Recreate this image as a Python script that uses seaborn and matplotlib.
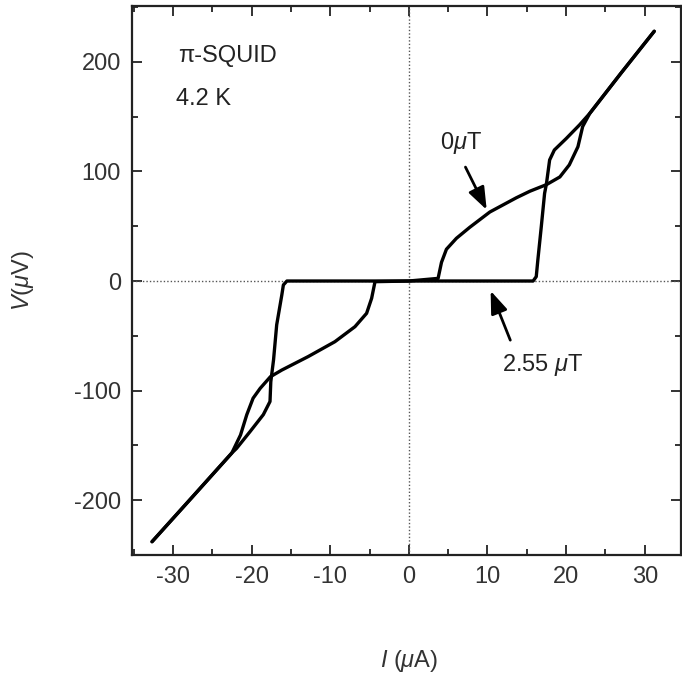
import numpy as np
import pandas as pd
import matplotlib
matplotlib.use("Agg")
import matplotlib.pyplot as plt
from matplotlib.ticker import MultipleLocator
import seaborn as sns

# I-V curves of the pi-SQUID (I in uA, V in uV)
i_0uT = [-32.65, -27.5, -22.5, -21.4, -20.6, -19.8, -18.9, -17.6, -16.15, -12.8,
         -9.4, -6.85, -5.37, -4.73, -4.3, 0.0, 3.72, 4.15, 4.78, 6.05,
         7.74, 10.3, 13.67, 15.4, 17.5, 19.2, 20.4, 21.5, 22.1, 23.0,
         27.0, 31.2]
v_0uT = [-238, -197, -157, -140.6, -122, -107, -98, -87.4, -81.3, -69,
         -55.4, -41.7, -29.5, -15.8, -0.6, 0, 2.4, 17, 29, 39,
         49, 63, 76, 82, 88, 95, 106, 122.6, 141, 153,
         190, 228]

i_255uT = [-32.65, -27.5, -22.5, -21.9, -20.2, -18.5, -17.65, -17.55, -17.2, -16.8,
           -16.15, -15.95, -15.5, 0.0, 15.8, 16.2, 16.4, 16.84, 17.26, 17.5,
           17.9, 18.5, 20.0, 21.7, 23.0, 27.0, 31.2]
v_255uT = [-238, -197, -157, -152.8, -137.6, -122, -110, -92, -72, -40,
           -12.8, -3.6, 0, 0, 0, 4, 19, 49.6, 80, 89,
           110.5, 119.6, 130, 142.5, 153, 190, 228]

x_ticks = [-30, -20, -10, 0, 10, 20, 30]
y_ticks = [-200, -100, 0, 100, 200]

df = pd.concat([
    pd.DataFrame({"I": i_0uT, "V": v_0uT, "field": "0uT"}),
    pd.DataFrame({"I": i_255uT, "V": v_255uT, "field": "2.55uT"}),
], ignore_index=True)

sns.set_style("ticks")
plt.rcParams["font.family"] = ["Liberation Sans", "DejaVu Sans"]
plt.rcParams["mathtext.fontset"] = "custom"
plt.rcParams["mathtext.rm"] = "Liberation Sans"
plt.rcParams["mathtext.it"] = "Liberation Sans:italic"
plt.rcParams["axes.unicode_minus"] = False
plt.rcParams["font.size"] = 17

fig = plt.figure(figsize=(6.82, 6.75), dpi=100)
ax = fig.add_axes([0.1935, 0.178, 0.805, 0.813])

ax.axhline(0, color="#555555", lw=1.0, ls=(0, (1, 1.5)), zorder=1)
ax.axvline(0, color="#555555", lw=1.0, ls=(0, (1, 1.5)), zorder=1)

sns.lineplot(data=df, x="I", y="V", units="field", estimator=None, sort=False,
             color="black", lw=2.4, ax=ax, zorder=3,
             solid_joinstyle="round", solid_capstyle="round")

ax.set_xlim(-35.2, 34.6)
ax.set_ylim(-250, 251)
ax.set_xticks(x_ticks)
ax.set_yticks(y_ticks)
ax.xaxis.set_minor_locator(MultipleLocator(5))
ax.yaxis.set_minor_locator(MultipleLocator(50))
ax.tick_params(which="both", direction="in", top=True, right=True,
               colors="#222222", labelcolor="#333333", width=1.3)
ax.tick_params(which="major", length=7, labelsize=17, pad=8)
ax.tick_params(which="minor", length=4)
for s in ax.spines.values():
    s.set_linewidth(1.6)
    s.set_color("#222222")

ax.set_xlabel(r"$I$ ($\mu$A)", fontsize=17, color="#333333")
ax.set_ylabel(r"$V$($\mu$V)", fontsize=17, color="#333333", va="center")
ax.xaxis.set_label_coords(0.505, -0.17)
ax.yaxis.set_label_coords(-0.198, 0.5)

ax.text(-29.3, 205, "\u03c0-SQUID", fontsize=17, va="center", ha="left", color="#222222")
ax.text(-29.6, 166, "4.2 K", fontsize=17, va="center", ha="left", color="#222222")

ax.text(6.6, 126, r"0$\mu$T", fontsize=17, va="center", ha="center", color="#222222")
ax.annotate("", xy=(9.9, 65), xytext=(7.2, 104),
            arrowprops=dict(arrowstyle="-|>,head_length=0.8,head_width=0.3",
                            color="black", lw=2.0, shrinkA=0, shrinkB=0))
ax.text(17.0, -77, r"2.55 $\mu$T", fontsize=17, va="center", ha="center", color="#222222")
ax.annotate("", xy=(10.4, -9), xytext=(12.9, -54),
            arrowprops=dict(arrowstyle="-|>,head_length=0.8,head_width=0.3",
                            color="black", lw=2.0, shrinkA=0, shrinkB=0))

fig.savefig("out.png", dpi=100)
